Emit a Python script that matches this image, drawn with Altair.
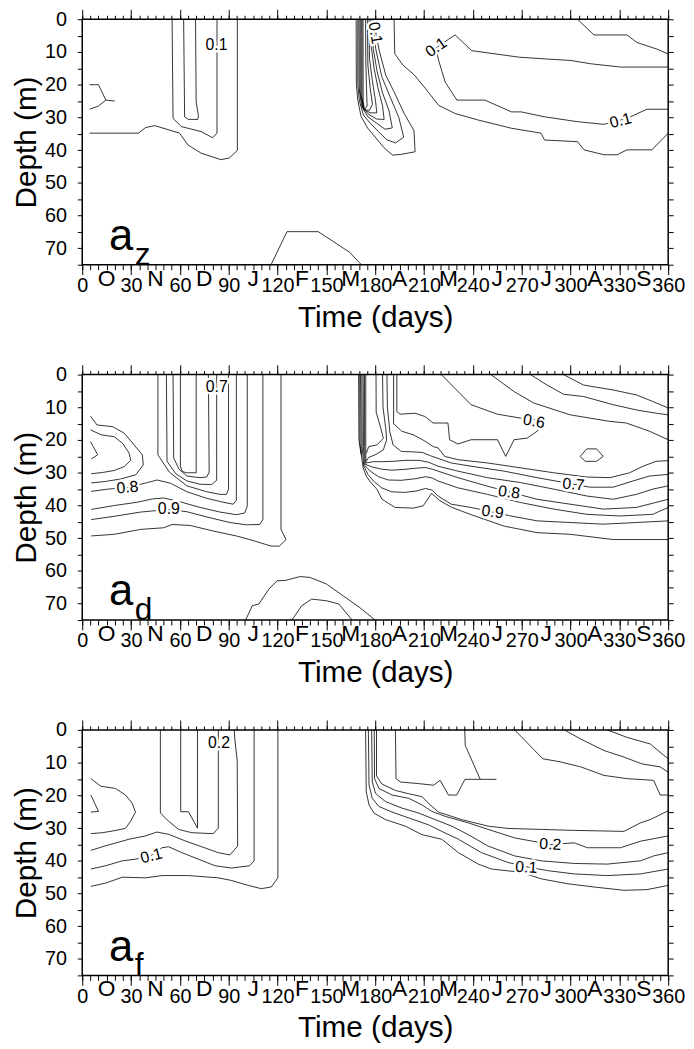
import altair as alt
import pandas as pd

FONT = "Liberation Sans"
W, H = 592, 248

MAJOR_DAYS = list(range(0, 361, 30))
MINOR_DAYS = list(range(0, 361, 5))
DEPTH_TICKS = list(range(0, 76, 5))
MONTHS = ["O", "N", "D", "J", "F", "M", "A", "M", "J", "J", "A", "S"]
MONTH_DAYS = list(range(15, 360, 30))
TAGS = [("a", "z"), ("a", "d"), ("a", "f")]

# ---------------- panel a_z ----------------
AZ_WEDGE_A = [(4.5, 20), (10, 20), (14.5, 24.7), (20, 25)]
AZ_WEDGE_B = [(4.5, 27.5), (10, 26.5), (14.5, 24.7)]
AZ_LONG = [(4.5, 34.8), (34.5, 34.8), (38.9, 33.1), (44.6, 32.5), (59.8, 34.8), (64.9, 38.4),
           (73, 40.9), (85.2, 42.9), (90.3, 42.4), (95.3, 40.1), (95.3, 0)]
AZ_U_A = [(55.2, 0), (55.8, 30.3), (60.9, 32.8), (73, 34.3), (80.1, 36.2), (82.8, 34.8), (82.8, 0)]
AZ_U_B = [(62.3, 0), (62.9, 29.8), (65.3, 30.6), (71, 30.6), (71.4, 29.5), (70, 25.3), (69.6, 0)]
AZ_BOTTOM = [(116, 75), (125.8, 64.9), (145, 64.9), (164.3, 71.2), (171.5, 75)]
AZ_M0 = [(168.3, 0), (168.4, 19.7), (169.3, 24.7), (171.3, 29.7), (175.4, 33.3), (180.5, 36.3),
         (185.5, 39.3), (190.6, 41.5), (195.7, 41.3), (204.5, 40.5), (203.8, 34), (197.7, 28.7),
         (191.6, 22.2), (186.5, 17.1), (182.5, 9.6), (180.5, 4.5), (180, 0)]
AZ_M1 = [(169.3, 0), (169.3, 20), (170.3, 25), (172.8, 29.3), (177, 31.8), (182, 34.3), (187, 36.8),
         (192.5, 37.8), (197.5, 36), (194.5, 30), (189, 23.5), (184, 17.5), (180.3, 9), (179.3, 4),
         (179.1, 0)]
AZ_M2 = [(170, 0), (170.1, 21), (171.6, 26.5), (175.5, 29.8), (181, 31.8), (186, 33.6),
         (190.5, 33.2), (188.5, 28), (184.5, 22.5), (181.2, 16), (178.8, 9), (178.2, 0)]
AZ_M3 = [(170.7, 0), (170.7, 22), (172.3, 27), (176, 29.1), (181, 30.5), (185.5, 30.6),
         (184.5, 26.5), (181.7, 21), (179.3, 15), (177.5, 8), (177.2, 0)]
AZ_M4 = [(171.3, 0), (171.3, 23), (172.9, 27.5), (177, 28.6), (181, 28.6), (180.2, 25),
         (178.3, 19), (176.5, 12), (176.2, 0)]
AZ_M5 = [(171.9, 0), (171.9, 24), (173.2, 27.7), (176.5, 27.8), (178.3, 26), (176.9, 21),
         (175.5, 14), (175.2, 0)]
AZ_M6 = [(172.5, 0), (172.6, 25), (173.4, 27.7), (175, 26.5), (174.6, 20), (174.2, 12), (174.1, 0)]
AZ_B1 = [(191.6, 0), (192, 10.5), (197, 14), (204, 17), (210.9, 21.2), (219, 26.3), (229.1, 28.8),
         (243.3, 30.8), (263.7, 33.3), (281.9, 34.8), (284, 36.9), (304.3, 37.4), (308.3, 39.9),
         (320.5, 41.4), (328.6, 41.4), (334.7, 39.9), (350, 39.9), (360, 34.8)]
AZ_B2 = [(360, 14.6), (330.7, 14.6), (312.4, 13.6), (300.2, 12.6), (284, 12.1), (268.7, 11.6),
         (239.3, 9.6), (229.1, 4.8), (225.1, 6.1), (217.4, 8.8), (218, 10.6), (219, 12.6),
         (223, 19.2), (230.2, 24.7), (247.4, 24.7), (263.7, 28.3), (269.7, 28.3), (284, 29.8),
         (304.3, 31.3), (320.5, 32.1), (330.7, 30.8), (336.8, 29.8), (346.9, 27.5), (360, 27.5)]
AZ_B3 = [(304.3, 0), (314.4, 4.8), (334.7, 4.8), (340.8, 7.1), (353, 9.1), (360, 10.6)]
AZ_LABELS = [(82.5, 7.9, "0.1", 0), (180, 4.2, "0.1", 80), (217.4, 8.6, "0.1", 325),
             (330.7, 31, "0.1", 345)]

# ---------------- panel a_d ----------------
AD_WEDGE_A = [(5.1, 12.7), (9.1, 15.4), (18.7, 15.9), (25.8, 17.9), (31.9, 21.5), (36.9, 24.5),
              (37.5, 27.6), (32.9, 30.6), (23.7, 31.9), (13.6, 32.7), (5.5, 33.1)]
AD_WEDGE_B = [(5.1, 16.9), (11.6, 18.4), (19.7, 19), (24.8, 21), (28.8, 24), (29.8, 26.2),
              (25.8, 28.1), (19.7, 29.3), (12.6, 29.9), (5.5, 30.3)]
AD_WEDGE_C = [(5.1, 20.5), (9.5, 24.5), (5.5, 25.8)]
AD_U1 = [(60.3, 0), (60.3, 28), (61.5, 29.6), (64, 30), (70, 30), (70, 0)]
AD_U2 = [(55.8, 0), (56.2, 25.5), (59.5, 28.9), (64.3, 31), (72.4, 31.5), (76.5, 31.3),
         (78, 29.8), (77.5, 0)]
AD_U3 = [(51.7, 0), (52.1, 26.5), (57.5, 30.3), (64.3, 32.5), (72.4, 33.5), (79.5, 33.6),
         (82.6, 32.3), (82.6, 0)]
AD_U4 = [(46.5, 0), (46.5, 24.5), (53.5, 29.8), (64.3, 34), (76.5, 35.8), (84.6, 36.6),
         (88.6, 36.6), (89.9, 35), (89.9, 0)]
AD_L1 = [(5.5, 35.7), (15.6, 35), (27.8, 34.5), (40, 33), (46, 32.2), (54.2, 33.2), (64.3, 35.8),
         (76.5, 37.8), (86.6, 39), (92.7, 39.6), (94.7, 38.4), (94.7, 0)]
AD_L2 = [(5.5, 41.2), (19.7, 40), (33.9, 39), (43, 38), (50.1, 37.7), (60.3, 38.9), (72.4, 40.6),
         (84.6, 42), (94.7, 42.8), (99.8, 42.3), (101.4, 40.2), (101.4, 0)]
AD_L3 = [(5.5, 44.3), (19.7, 43.3), (35.9, 42), (53.2, 41.2), (64.3, 41.9), (76.5, 43.5),
         (90.7, 45.2), (100.8, 45.9), (109, 45.8), (111, 44.3), (111, 0)]
AD_L4 = [(5.5, 49.3), (19.7, 48.8), (35.9, 47.3), (50.1, 46.8), (55.2, 45.8), (66.3, 46.1),
         (80.5, 47.8), (94.7, 49.3), (104.9, 50.7), (116, 52.4), (121.1, 52.4), (125.2, 50.4),
         (122.1, 47.3), (122.1, 0)]
AD_BOT_OUT = [(100.4, 75), (104.5, 70.6), (108.5, 70.1), (114.6, 65.6), (119.7, 63), (124.7, 62.9),
              (133.9, 61.7), (140, 62), (150.1, 64), (160, 67.5), (170, 71), (180, 75)]
AD_BOT_IN = [(128.8, 75), (134.9, 70.6), (141, 68.6), (150, 69.1), (157.7, 70.1), (165.8, 75)]
AD_K1 = [(169.8, 0), (170, 20), (171.2, 24)]
AD_K2 = [(170.5, 0), (170.6, 21), (171.5, 24.6)]
AD_TRI = [(180.5, 0), (180.6, 11.5), (183.5, 16.5), (185, 19.5), (181, 21.5), (176, 22), (174.6, 24)]
AD_HOOK = [(184.5, 0), (184.8, 10), (186.5, 16.5), (187, 20), (185, 23), (180, 24.5), (176, 25.3),
           (174.5, 26.5)]
AD_06 = [(193.3, 0), (193.3, 11.3), (195.3, 12.1), (204.4, 11.8), (210.5, 12.8), (215.6, 14.8),
         (224.7, 14.8), (225.7, 19.9), (230.8, 21.2), (238.9, 19.9), (255.1, 19.9), (260.2, 25),
         (265.3, 19.9), (273.4, 19.4), (279.5, 17.3), (282, 15.5), (279, 13.8), (269.4, 13.3),
         (255.1, 12.1), (238.9, 9.2), (220.6, 0)]
AD_G1 = [(191.3, 0), (191.3, 15), (196.3, 17.3), (203.4, 18.4), (210.5, 20.3), (215.6, 22),
         (218.6, 22.4), (222.7, 25), (230.8, 26), (249, 27), (269.4, 28.5), (289.7, 30), (310, 31.3),
         (324.2, 31.5), (336.3, 30), (344.5, 28), (352.6, 26.5), (360, 26.3)]
AD_G2 = [(187.2, 0), (187.5, 10), (189, 17.5), (191, 21.5), (196, 23.5), (203, 23.6), (209, 23.8),
         (214, 24.8), (218.6, 25.6), (226.7, 27), (238.9, 28), (259.2, 29.5), (279.5, 31.5),
         (301.8, 33.5), (312, 34.4), (326.2, 34.4), (338.4, 32.5), (348.5, 31), (360, 30.5)]
AD_G3 = [(174.2, 0), (174.2, 22), (174.3, 27), (179, 26.6), (185, 26.6), (191, 26.5), (199, 26.2),
         (207, 26.2), (213, 26.8), (218.6, 28), (230.8, 29.5), (249, 31.5),
         (269.4, 33), (289.7, 35), (310, 37.1), (326.2, 38.1), (340.4, 36.6), (350.5, 35), (360, 34)]
AD_G4 = [(173.4, 0), (173.5, 22), (173.8, 27.4), (178, 28.2), (184, 28.9), (190, 29.2),
         (197, 29), (205, 28.6), (211, 28.4), (215, 28.9), (218.6, 29.5), (230.8, 31.5),
         (249, 34.1), (279.5, 38.1), (299.8, 39.6), (320.1, 41.1), (340.4, 40.6), (360, 38.1)]
AD_G5 = [(172.6, 0), (172.8, 22), (173.3, 27.6), (177, 29.5), (182, 31.2), (188, 32.2),
         (196, 32.3), (205, 31.8), (211, 31.2), (215, 31.6), (218.6, 32.5), (230.8, 34.6),
         (249, 36.6), (269.4, 39.1), (289.7, 41.1), (310, 42.7), (330.3, 43.2), (350.5, 42.7),
         (360, 40.6)]
AD_G6 = [(171.8, 0), (172, 22), (172.9, 27.8), (175.5, 30.5), (179.5, 32.8), (184, 34.6),
         (190, 35.8), (198, 36), (205, 35.6), (211, 34.8), (215, 35.3), (218.6, 37.1),
         (226.7, 39.6), (238.9, 40.6), (252.1, 42), (263.3, 43.2), (279.5, 44.7), (299.8, 45.2),
         (320.1, 45.7), (340.4, 45.2), (360, 44.7)]
AD_G7 = [(171, 0), (171.4, 24.4), (172.6, 28.5), (174.5, 31), (177, 32.8), (181, 35),
         (184.2, 38.1), (192.3, 40.6), (203.4, 40.8), (209.5, 40.1), (214.6, 36.3), (219.7, 38.5),
         (226.7, 40.5), (238.9, 42.8), (259.2, 46.3), (279.5, 48.3), (299.8, 48.8), (326.2, 50.4),
         (360, 50.4)]
AD_LOOP = [(305.9, 25), (310, 22.7), (316, 22.7), (320.1, 25), (316, 26.5), (309, 26.5), (305.9, 25)]
AD_T1 = [(295.7, 0), (308, 3.2), (326.2, 4.7), (340.4, 6.2), (350.5, 8.2), (360, 10.2)]
AD_T2 = [(275.4, 0), (285.6, 3.2), (295.7, 6), (308, 6.7), (326.2, 9.2), (340.4, 10.8),
         (352.6, 11.8), (360, 12.3)]
AD_T3 = [(251.1, 0), (265.3, 5.2), (277.5, 8.7), (299.8, 12.3), (324.2, 14.3), (334.3, 14.8),
         (348.5, 17.3), (360, 19.9)]
AD_LABELS = [(82.6, 3.8, "0.7", 0), (27.8, 34.5, "0.8", 355), (53.2, 41.2, "0.9", 0),
             (277.5, 14.3, "0.6", 10), (301.8, 33.6, "0.7", 5), (262.2, 36, "0.8", 8),
             (252.1, 42, "0.9", 7)]

# ---------------- panel a_f ----------------
AF_WEDGE_OUT = [(5.3, 14.9), (11.4, 17.2), (20.5, 17.9), (26.6, 19.9), (30.7, 22.4), (32.7, 25.1),
                (29.7, 27.9), (26.6, 30.1), (18.5, 30.9), (12.4, 31.4), (5.3, 31.7)]
AF_WEDGE_IN = [(5.3, 19.9), (10, 24.9), (5.3, 25.1)]
AF_U1 = [(60.5, 0), (60.5, 25), (65.3, 25), (70.8, 30), (70.8, 0)]
AF_U2 = [(48, 0), (48, 25.4), (53.1, 27.9), (59.2, 30.4), (67.3, 31.4), (80.5, 31.7), (83.6, 30),
         (83.6, 0)]
AF_L1 = [(5.3, 36.8), (14.4, 35.4), (28.7, 33.4), (38.8, 32.4), (45.9, 31.2), (53.1, 31.9),
         (63.2, 33.9), (73.4, 35.7), (83.6, 37.5), (90.7, 38.2), (95.5, 35.5), (95.2, 9.2),
         (93.8, 3.2), (93.4, 0)]
AF_L2 = [(5.3, 42.5), (14.4, 41.5), (24.6, 40), (32.7, 39.5), (42, 38.5), (49, 36), (53.1, 35.7),
         (61.2, 37.5), (71.4, 39.5), (81.6, 41.5), (91.7, 42.2), (102.9, 41.5), (105.6, 40),
         (105.6, 0)]
AF_L3 = [(5.3, 47.8), (14.4, 46.8), (24.6, 45), (38.8, 45.2), (49, 44.5), (65.3, 44.5),
         (83.6, 45.2), (91.7, 46), (101.9, 47.5), (110, 48.5), (116.1, 48), (120.2, 45.2),
         (120.2, 0)]
AF_C1 = [(174.1, 0), (174.5, 18.9), (176.2, 22.9), (179.2, 25.4), (186.3, 27.4), (198.5, 29.4),
         (208.7, 32), (220.9, 33.4), (231.1, 37.5), (243.3, 41), (251.4, 42.5), (269.7, 43.5),
         (282, 45.5), (298.2, 47), (314.5, 48), (332.8, 49), (347, 48.8), (360, 47.5)]
AF_C2 = [(175.8, 0), (176.2, 16.9), (178.2, 20.9), (182.3, 23.4), (190.4, 25.1), (200.6, 26.9),
         (212.8, 29), (220.9, 31), (231.1, 33.4), (245.3, 37.5), (261.6, 40.5), (272.8, 41.8),
         (286, 43), (302.3, 44), (322.6, 44.5), (343, 44), (360, 42.5)]
AF_C3 = [(177.8, 0), (178.2, 15.9), (180.2, 19.4), (186.3, 21.9), (196.5, 23.9), (206.7, 25.4),
         (216.8, 27.4), (227, 29.4), (237.2, 32), (249.4, 35.5), (265.7, 38.5), (281.9, 40),
         (302.3, 40.8), (322.6, 41), (343, 40), (351.1, 38.5), (360, 37.5)]
AF_C4 = [(179.4, 0), (179.6, 14.9), (182.3, 17.9), (190.4, 19.9), (200.6, 20.9), (208.7, 22.9),
         (214.8, 24.9), (223, 26.4), (237.2, 28.4), (249.4, 30.4), (265.7, 33), (287.6, 35),
         (302.3, 34.5), (310.4, 36), (330.7, 36), (343, 34), (360, 32.4)]
AF_C5 = [(180.8, 0), (180.8, 14), (184, 16.5), (192.5, 18.5), (200.6, 19.5), (208.7, 20.4),
         (213.8, 22.9), (218.9, 25.1), (233.1, 27.4), (249.4, 29.4), (261.6, 30.1), (282, 30.4),
         (302.3, 30.7), (332.8, 31), (343, 28.4), (349, 27.4), (360, 24.7)]
AF_V1 = [(192.4, 0), (192.8, 14.9), (195.5, 15.9), (206.7, 16.4), (215.8, 16.9), (219.9, 15.4),
         (225, 19.9), (230.1, 19.9), (235.1, 15.1), (244.3, 15.1), (254.5, 15.1)]
AF_V2 = [(235, 0), (235.3, 4.7), (244.5, 15.1)]
AF_T1 = [(265.7, 0), (282.9, 8.8), (294.1, 9.8), (306.3, 11.3), (320.6, 13.9), (334.8, 14.9),
         (351.1, 15.4), (355.1, 19.9), (360, 19.9)]
AF_T2 = [(296.2, 0), (306.3, 2.8), (320.6, 6.3), (332.8, 8.3), (344, 10.4), (355.1, 11.3),
         (360, 12.9)]
AF_T3 = [(322.6, 0), (334.8, 2.3), (349, 4.3), (356.2, 7.3), (360, 8.8)]
AF_LABELS = [(84, 3.9, "0.2", 0), (42.5, 38.5, "0.1", 345), (287.6, 35, "0.2", 3),
             (272.8, 42, "0.1", 3)]

AZ_LINES = [AZ_WEDGE_A, AZ_WEDGE_B, AZ_LONG, AZ_U_A, AZ_U_B, AZ_BOTTOM, AZ_M0, AZ_M1, AZ_M2,
            AZ_M3, AZ_M4, AZ_M5, AZ_M6, AZ_B1, AZ_B2, AZ_B3]
AD_LINES = [AD_WEDGE_A, AD_WEDGE_B, AD_WEDGE_C, AD_U1, AD_U2, AD_U3, AD_U4, AD_L1, AD_L2, AD_L3,
            AD_L4, AD_BOT_OUT, AD_BOT_IN, AD_K1, AD_K2, AD_TRI, AD_HOOK, AD_06, AD_G1, AD_G2,
            AD_G3, AD_G4, AD_G5, AD_G6, AD_G7, AD_LOOP, AD_T1, AD_T2, AD_T3]
AF_LINES = [AF_WEDGE_OUT, AF_WEDGE_IN, AF_U1, AF_U2, AF_L1, AF_L2, AF_L3, AF_C1, AF_C2, AF_C3,
            AF_C4, AF_C5, AF_V1, AF_V2, AF_T1, AF_T2, AF_T3]

XS = alt.Scale(domain=[0, 360], nice=False, zero=False)
YS = alt.Scale(domain=[0, 75], nice=False, zero=False, reverse=True)


def lines_df(lines):
    rows = []
    for k, pts in enumerate(lines):
        for i, (d, z) in enumerate(pts):
            rows.append({"line": k, "i": i, "day": d, "depth": z})
    return pd.DataFrame(rows)


def tick_axis(orient, values, size):
    return alt.Axis(orient=orient, values=values, tickSize=size, tickColor="black", tickWidth=1,
                    labels=False, domain=False, grid=False, title=None)


def panel(lines, labels, tag):
    ldf = lines_df(lines)
    x_main = alt.Axis(orient="bottom", values=MAJOR_DAYS, tickSize=10, tickColor="black",
                      tickWidth=1, labelFont=FONT, labelFontSize=20, labelColor="black",
                      labelPadding=1, labelFlush=False, labelOverlap=False, domain=False,
                      grid=False, title="Time (days)", titleFont=FONT, titleFontSize=30,
                      titleFontWeight="normal", titleColor="black", titlePadding=7)
    y_main = alt.Axis(orient="left", values=DEPTH_TICKS, tickSize=5, tickColor="black",
                      tickWidth=1, labelExpr="datum.value % 10 == 0 ? datum.label : ''",
                      labelFont=FONT, labelFontSize=20, labelColor="black", labelPadding=11,
                      domain=False, grid=False, title="Depth (m)", titleFont=FONT,
                      titleFontSize=30, titleFontWeight="normal", titleColor="black",
                      titlePadding=3)
    contour = alt.Chart(ldf).mark_line(color="black", strokeWidth=0.8).encode(
        x=alt.X("day:Q", scale=XS, axis=x_main),
        y=alt.Y("depth:Q", scale=YS, axis=y_main),
        detail="line:N",
        order="i:Q",
    )
    frame = pd.DataFrame({"day": [0, 360], "depth": [0, 75]})

    def dummy(xa, ya):
        return alt.Chart(frame).mark_point(opacity=0).encode(
            x=alt.X("day:Q", scale=XS, axis=xa),
            y=alt.Y("depth:Q", scale=YS, axis=ya))

    d1 = dummy(tick_axis("bottom", MINOR_DAYS, 5), None)
    d2 = dummy(tick_axis("top", MAJOR_DAYS, 10), None)
    d3 = dummy(tick_axis("top", MINOR_DAYS, 4), None)
    d4 = dummy(None, tick_axis("right", DEPTH_TICKS, 5))

    lab = pd.DataFrame(labels, columns=["day", "depth", "txt", "ang"])
    enc = dict(x=alt.X("day:Q", scale=XS, axis=None), y=alt.Y("depth:Q", scale=YS, axis=None),
               text="txt:N", angle=alt.Angle("ang:Q", scale=None))
    halo = alt.Chart(lab).mark_text(font=FONT, fontSize=16, fill="white", stroke="white",
                                    strokeWidth=5, strokeJoin="round", align="center",
                                    baseline="middle").encode(**enc)
    ltext = alt.Chart(lab).mark_text(font=FONT, fontSize=16, color="black", align="center",
                                     baseline="middle").encode(**enc)

    mdf = pd.DataFrame({"day": MONTH_DAYS, "m": MONTHS})
    months = alt.Chart(mdf).mark_text(font=FONT, fontSize=23, color="black", align="center",
                                      baseline="alphabetic").encode(
        x=alt.X("day:Q", scale=XS, axis=None), y=alt.value(H + 21), text="m:N")

    tdf = pd.DataFrame({"t": [tag[0]], "s": [tag[1]]})
    big = alt.Chart(tdf).mark_text(font=FONT, fontSize=44, color="black", align="left",
                                   baseline="alphabetic").encode(
        x=alt.value(27), y=alt.value(233), text="t:N")
    small = alt.Chart(tdf).mark_text(font=FONT, fontSize=32, color="black", align="left",
                                     baseline="alphabetic").encode(
        x=alt.value(53), y=alt.value(248), text="s:N")

    return alt.layer(contour, d1, d2, d3, d4, halo, ltext, months, big, small).resolve_axis(
        x="independent", y="independent").properties(width=W, height=H)


chart = alt.vconcat(
    panel(AZ_LINES, AZ_LABELS, TAGS[0]),
    panel(AD_LINES, AD_LABELS, TAGS[1]),
    panel(AF_LINES, AF_LABELS, TAGS[2]),
    spacing=30,
).properties(padding={"left": 3, "top": -6, "right": 0, "bottom": 0}).configure(
    font=FONT, background="white",
    view=alt.ViewConfig(stroke="black", strokeWidth=1.5),
)

chart.save("out.html", embed_options={"renderer": "svg", "actions": False})
